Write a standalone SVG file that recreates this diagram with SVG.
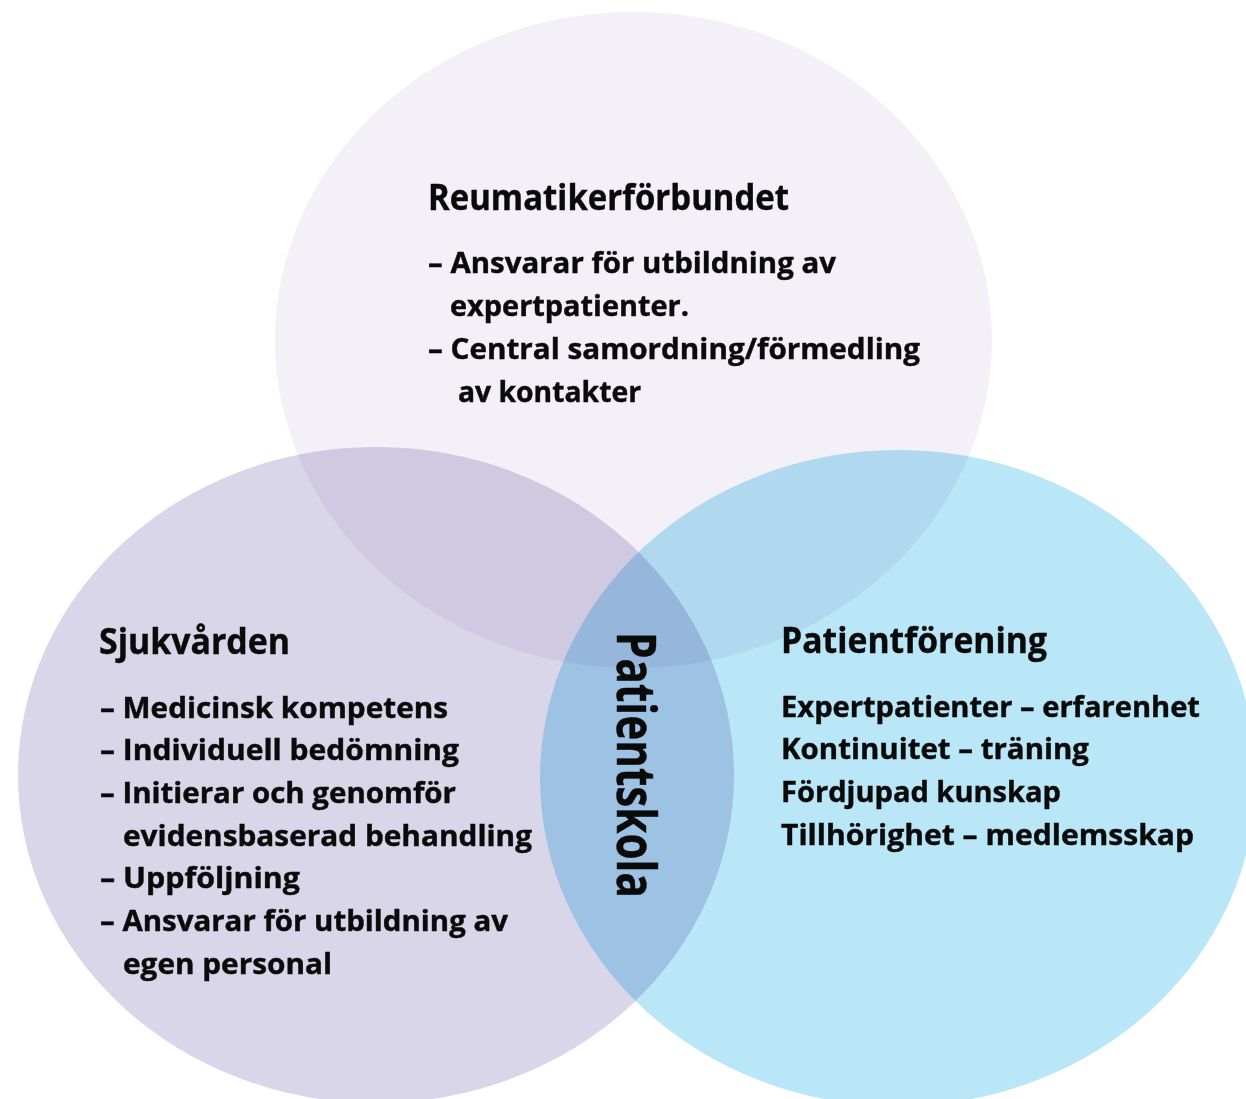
<svg xmlns="http://www.w3.org/2000/svg" width="1246" height="1099" viewBox="0 0 1246 1099">
  <style>
    .c { mix-blend-mode: multiply; }
    text { font-family: "Open Sans", Lato, "Liberation Sans", sans-serif; font-weight: 700; fill: #0a0a0a; stroke: #0a0a0a; stroke-width: 0.4px; }
    .h { font-size: 35px; }
    .b { font-size: 28px; }
    .v { font-size: 54px; }
  </style>
  <rect x="0" y="0" width="1246" height="1099" fill="#ffffff"/>
  <g id="circles">
    <ellipse id="circle-top" class="c" cx="633.5" cy="340" rx="358.5" ry="328" fill="#f3f0f7"/>
    <ellipse id="circle-left" class="c" cx="376" cy="775" rx="358" ry="328" fill="#dad6ea"/>
    <ellipse id="circle-right" class="c" cx="898" cy="778" rx="358" ry="328" fill="#b9e7f8"/>
  </g>
  <g id="connectors"></g>
  <g id="node-reumatikerforbundet">
    <text class="h" x="428" y="210" textLength="361" lengthAdjust="spacingAndGlyphs">Reumatikerförbundet</text>
    <text class="b" x="428" y="273" textLength="408" lengthAdjust="spacingAndGlyphs">– Ansvarar för utbildning av</text>
    <text class="b" x="450" y="316" textLength="239" lengthAdjust="spacingAndGlyphs">expertpatienter.</text>
    <text class="b" x="428" y="359" textLength="492" lengthAdjust="spacingAndGlyphs">– Central samordning/förmedling</text>
    <text class="b" x="458" y="402" textLength="183" lengthAdjust="spacingAndGlyphs">av kontakter</text>
  </g>
  <g id="node-sjukvarden">
    <text class="h" x="99" y="654" textLength="191" lengthAdjust="spacingAndGlyphs">Sjukvården</text>
    <text class="b" x="100" y="718" textLength="348" lengthAdjust="spacingAndGlyphs">– Medicinsk kompetens</text>
    <text class="b" x="100" y="760" textLength="359" lengthAdjust="spacingAndGlyphs">– Individuell bedömning</text>
    <text class="b" x="100" y="803" textLength="356" lengthAdjust="spacingAndGlyphs">– Initierar och genomför</text>
    <text class="b" x="123" y="846" textLength="409" lengthAdjust="spacingAndGlyphs">evidensbaserad behandling</text>
    <text class="b" x="100" y="888" textLength="200" lengthAdjust="spacingAndGlyphs">– Uppföljning</text>
    <text class="b" x="100" y="931" textLength="408" lengthAdjust="spacingAndGlyphs">– Ansvarar för utbildning av</text>
    <text class="b" x="123" y="974" textLength="209" lengthAdjust="spacingAndGlyphs">egen personal</text>
  </g>
  <g id="node-patientforening">
    <text class="h" x="781" y="653" textLength="266" lengthAdjust="spacingAndGlyphs">Patientförening</text>
    <text class="b" x="781" y="717" textLength="419" lengthAdjust="spacingAndGlyphs">Expertpatienter – erfarenhet</text>
    <text class="b" x="781" y="759" textLength="308" lengthAdjust="spacingAndGlyphs">Kontinuitet – träning</text>
    <text class="b" x="781" y="802" textLength="280" lengthAdjust="spacingAndGlyphs">Fördjupad kunskap</text>
    <text class="b" x="781" y="845" textLength="413" lengthAdjust="spacingAndGlyphs">Tillhörighet – medlemsskap</text>
  </g>
  <g id="node-patientskola">
    <text class="v" transform="translate(617,632) rotate(90)" x="0" y="0" textLength="266" lengthAdjust="spacingAndGlyphs">Patientskola</text>
  </g>
</svg>
